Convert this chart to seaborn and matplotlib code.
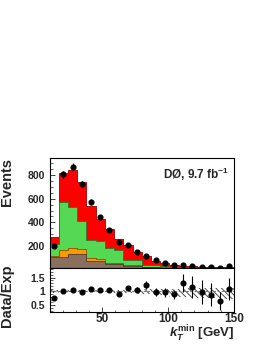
import numpy as np
import pandas as pd
import matplotlib; matplotlib.use("Agg")
import matplotlib.pyplot as plt
from matplotlib.ticker import MultipleLocator, FixedLocator, FixedFormatter
import seaborn as sns

sns.set_style("ticks")
plt.rcParams.update({"font.family": ["Liberation Sans", "DejaVu Sans"], "font.weight": "bold",
                     "mathtext.fontset": "custom", "mathtext.rm": "Liberation Sans:bold",
                     "mathtext.it": "Liberation Sans:italic:bold", "mathtext.bf": "Liberation Sans:bold",
                     "hatch.linewidth": 0.6, "axes.linewidth": 0.8, "axes.edgecolor": "black"})

# binning: 20 bins of 7 GeV, 10..150
edges = np.arange(10, 151, 7)
centers = edges[:-1] + 3.5

brown  = [105, 110, 130, 130, 76, 70, 50, 46, 32, 30, 22, 20, 16, 15, 13, 12, 11, 10, 10, 9]
orange = [13, 57, 51, 42, 20, 18, 10, 10, 6, 6, 4, 4, 3, 3, 2, 2, 2, 2, 1, 1]
green  = [99, 408, 346, 240, 155, 152, 121, 114, 47, 42, 16, 14, 9, 7, 5, 4, 3, 3, 3, 3]
red    = [57, 240, 318, 325, 284, 190, 159, 92, 120, 72, 70, 38, 27, 16, 14, 11, 9, 7, 6, 7]

data     = [203, 806, 871, 722, 570, 443, 336, 237, 209, 152, 116, 80, 54, 42, 40, 31, 25, 24, 18, 27]
data_err = [14, 28, 30, 27, 24, 21, 18, 15, 14, 12, 11, 9, 7, 6.5, 6.3, 5.6, 5, 4.9, 4.2, 5.2]

ratio     = [0.76, 1.00, 1.05, 0.99, 1.09, 1.05, 1.06, 0.91, 1.12, 1.06, 1.23, 0.98, 0.96, 0.89,
             1.31, 1.17, 0.98, 0.88, 0.65, 1.10]
ratio_err = [0.06, 0.035, 0.035, 0.04, 0.045, 0.05, 0.06, 0.07, 0.08, 0.09, 0.16, 0.14, 0.15, 0.16,
             0.34, 0.40, 0.44, 0.42, 0.34, 0.40]
syst_up = [0.05, 0.04, 0.04, 0.04, 0.04, 0.04, 0.04, 0.05, 0.05, 0.06, 0.07, 0.07, 0.08, 0.10,
           0.10, 0.11, 0.11, 0.12, 0.12, 0.12]
syst_dn = [0.05, 0.04, 0.04, 0.04, 0.04, 0.04, 0.05, 0.06, 0.07, 0.08, 0.10, 0.11, 0.14, 0.20,
           0.22, 0.23, 0.24, 0.25, 0.25, 0.26]
ratio_ticks = [0.5, 1, 1.5]
ratio_ticklabels = ["0.5", "1", "1.5"]

layers = [("red", "#ff0000", "#a00000"), ("green", "#55d955", "#2a7a2a"),
          ("orange", "#ff9900", "#8a5200"), ("brown", "#8b6f5e", "#4a3a30")]

fig = plt.figure(figsize=(2.66, 3.44), dpi=100)
ax1 = fig.add_axes([0.1861, 0.2209, 0.6936, 0.3198])
ax2 = fig.add_axes([0.1861, 0.0930, 0.6936, 0.1279])

# stacked expectation: draw cumulative sums, tallest first
stack = np.cumsum([brown, orange, green, red], axis=0)[::-1]
for (name, fc, ec), cum in zip(layers, stack):
    df = pd.DataFrame({"kt": centers, "w": cum})
    sns.histplot(data=df, x="kt", weights="w", binwidth=7, binrange=(10, 150), element="step",
                 fill=True, color=fc, alpha=1, edgecolor=ec, linewidth=0.6, ax=ax1)

ax1.errorbar(centers, data, yerr=data_err, fmt="o", color="black", ms=3.4, elinewidth=0.8, capsize=0)
ax1.set_xlim(10, 150); ax1.set_ylim(14, 944)
ax1.set_ylabel("Events", fontsize=10.5, fontweight="bold", loc="top")
ax1.yaxis.set_label_coords(-0.19, 1.0)
ax1.set_xlabel("")
ax1.yaxis.set_major_locator(FixedLocator([200, 400, 600, 800]))
ax1.yaxis.set_minor_locator(MultipleLocator(50))
ax1.xaxis.set_major_locator(MultipleLocator(50)); ax1.xaxis.set_minor_locator(MultipleLocator(10))
ax1.tick_params(axis="x", labelbottom=False)
ax1.text(0.975, 0.85, r"DØ, 9.7 fb$^{-1}$", transform=ax1.transAxes, ha="right", va="center",
         fontsize=8.5, fontweight="bold")

# ratio panel
band_lo = np.append(1 - np.array(syst_dn), 1 - syst_dn[-1])
band_hi = np.append(1 + np.array(syst_up), 1 + syst_up[-1])
ax2.fill_between(edges, band_lo, band_hi, step="post", facecolor="none", edgecolor="#333333",
                 hatch="\\\\\\\\\\\\", linewidth=0)
ax2.axhline(1, color="#b06060", ls=(0, (2, 1.5)), lw=0.8)
ax2.errorbar(centers, ratio, yerr=ratio_err, fmt="o", color="black", ms=3.4, elinewidth=0.8, capsize=0)
ax2.set_xlim(10, 150); ax2.set_ylim(0.25, 1.85)
ax2.yaxis.set_major_locator(FixedLocator(ratio_ticks))
ax2.yaxis.set_major_formatter(FixedFormatter(ratio_ticklabels))
ax2.yaxis.set_minor_locator(MultipleLocator(0.1))
ax2.xaxis.set_major_locator(MultipleLocator(50)); ax2.xaxis.set_minor_locator(MultipleLocator(10))
ax2.set_ylabel("Data/Exp", fontsize=10.5, fontweight="bold")
ax2.yaxis.set_label_coords(-0.19, 0.36)
ax2.set_xlabel(r"$k_T^{\rm min}$ [GeV]", fontsize=9.5, fontweight="bold", loc="right")
ax2.xaxis.set_label_coords(1.0, -0.265)

for ax in (ax1, ax2):
    for s in ax.spines.values():
        s.set_visible(True); s.set_linewidth(0.8)
    ax.tick_params(which="both", direction="in", top=False, right=False)
    ax.tick_params(which="major", length=3.6, width=0.6)
    ax.tick_params(which="minor", length=1.8, width=0.5)
    ax.tick_params(axis="y", labelsize=7.5, pad=3)
ax2.tick_params(axis="x", labelsize=8.5, pad=1)

fig.savefig("out.png", dpi=100)
